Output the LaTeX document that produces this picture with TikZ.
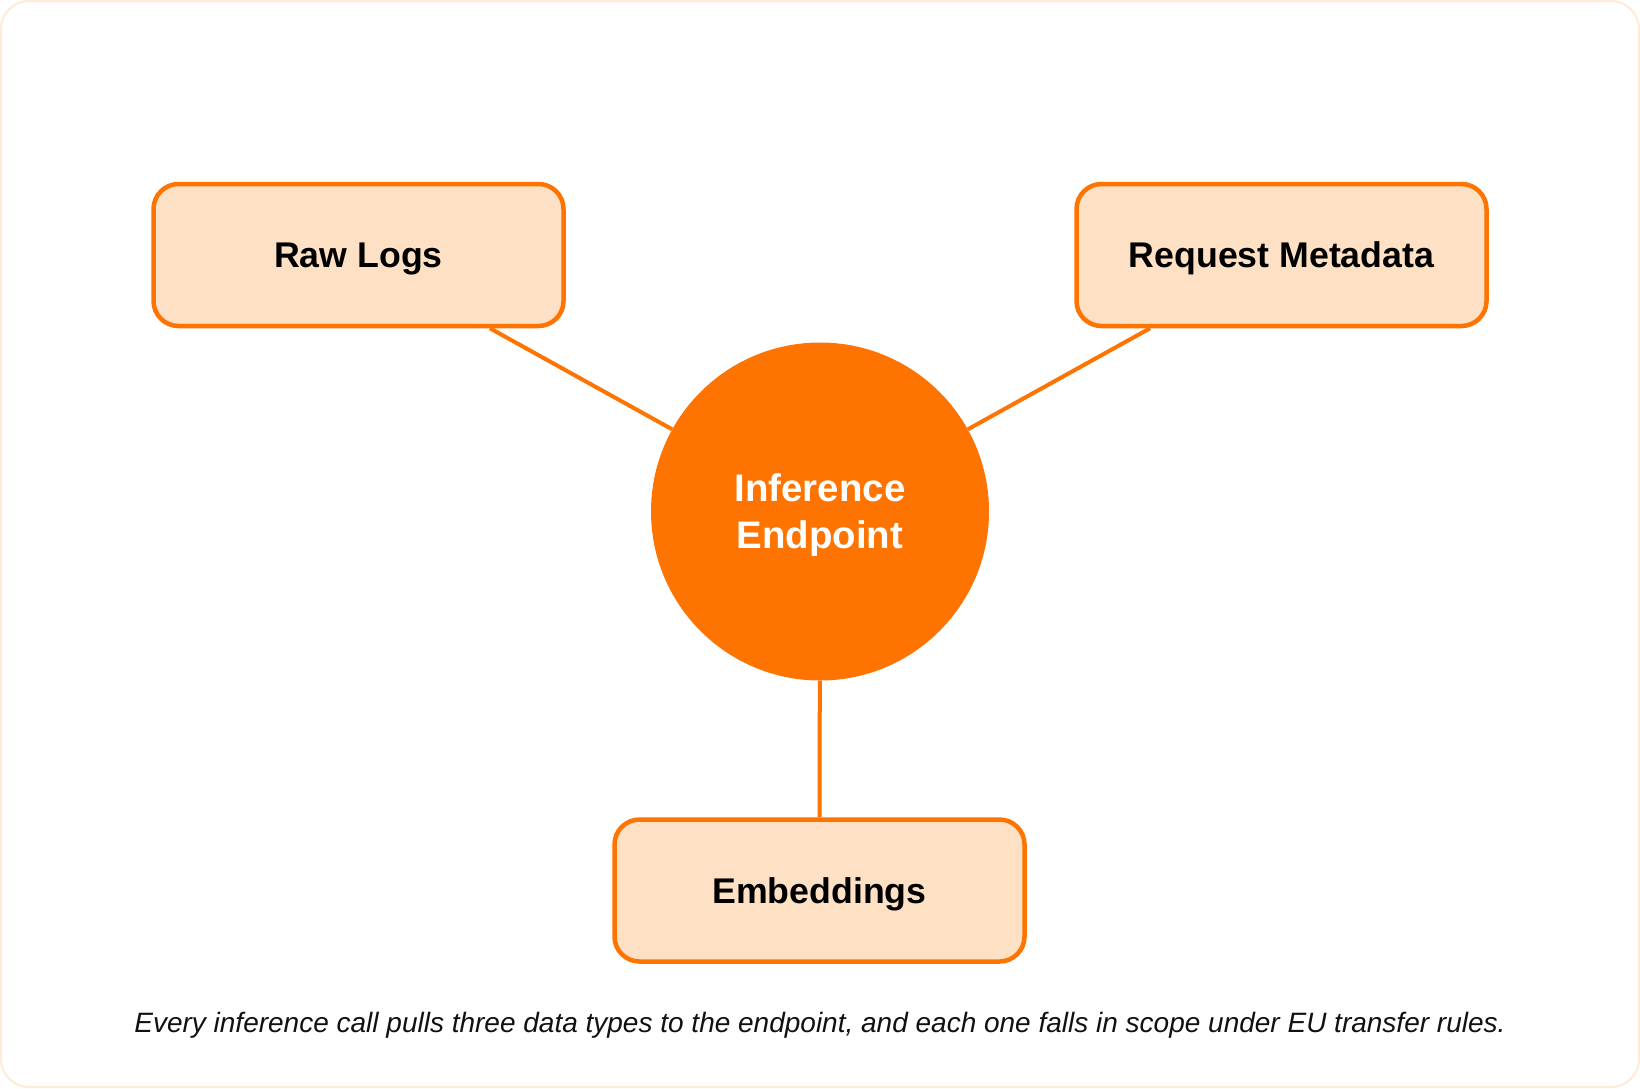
\documentclass[tikz,border=0pt]{standalone}
\usepackage{fontspec}
\setmainfont{Liberation Sans}
\definecolor{orng}{HTML}{FF7300}
\definecolor{peach}{HTML}{FEE0C5}
\definecolor{framec}{HTML}{FDEBD8}
\definecolor{ink}{HTML}{111111}
\begin{document}
\begin{tikzpicture}[x=1pt,y=-1pt,
  databox/.style={draw=orng, line width=4.5pt, fill=peach, rounded corners=25pt,
    minimum width=410pt, minimum height=142pt, inner sep=0pt,
    text height=25.6pt, text depth=0pt,
    font=\fontsize{35.7}{43}\selectfont\bfseries, text=black},
  hub/.style={circle, fill=orng, minimum size=338pt, inner sep=0pt, align=center,
    text height=74.2pt, text depth=0pt,
    font=\fontsize{38.4}{46.7}\selectfont\bfseries, text=white},
  link/.style={draw=orng, line width=4pt},
  caption/.style={font=\fontsize{28}{34}\selectfont\itshape, text=ink, inner sep=0pt}]
\useasboundingbox (0,0) rectangle (1640,1088);
\draw[framec, line width=2pt, rounded corners=28pt] (1,1) rectangle (1639,1087);
\node[hub] (hub) at (820,511.5) {Inference\\Endpoint};
\node[databox] (raw) at (358.5,255) {Raw Logs};
\node[databox] (meta) at (1281.5,255) {Request Metadata};
\node[databox] (emb) at (819.5,890.5) {Embeddings};
\draw[link] (raw) -- (hub);
\draw[link] (meta) -- (hub);
\draw[link] (emb) -- (hub);
\node[caption, anchor=base] (cap) at (820,1032) {Every inference call pulls three data types to the endpoint, and each one falls in scope under EU transfer rules.};
\end{tikzpicture}
\end{document}
